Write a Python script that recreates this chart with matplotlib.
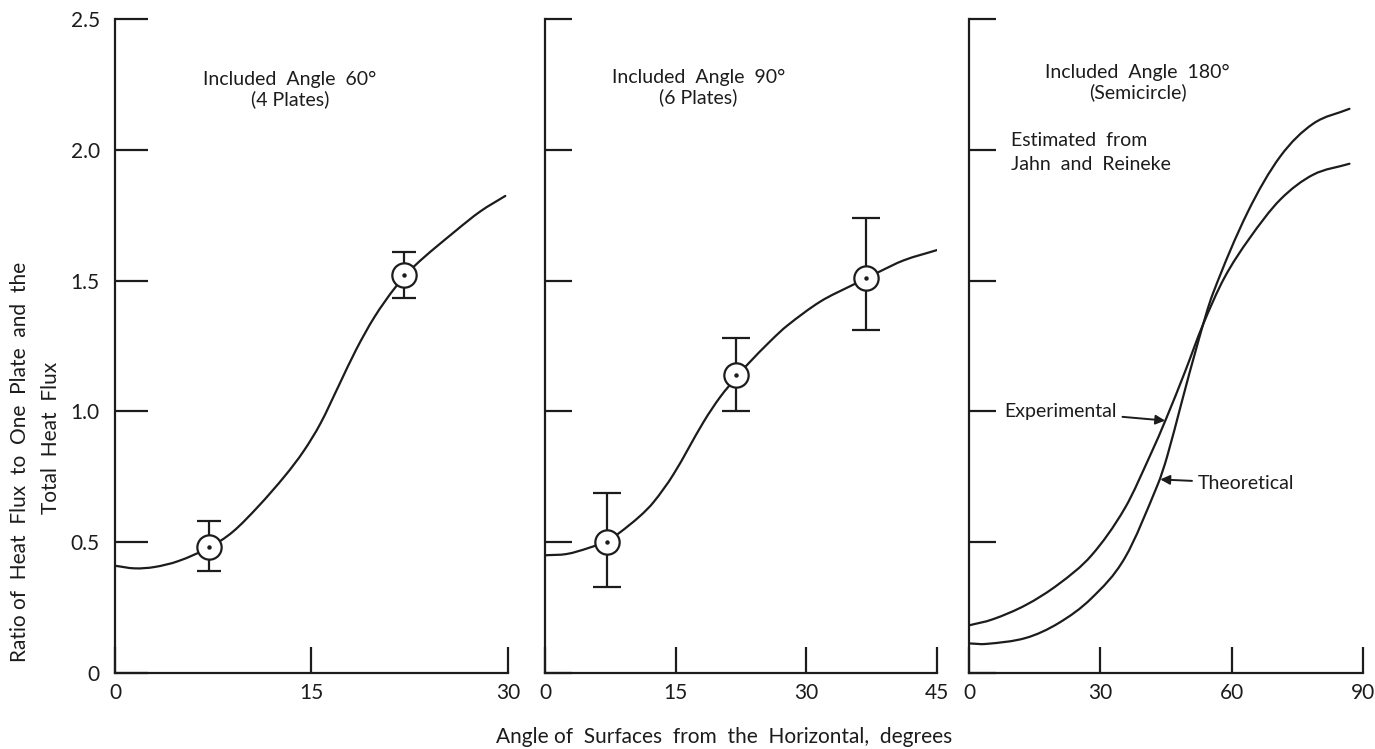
import matplotlib
matplotlib.use("Agg")
import matplotlib.pyplot as plt
from matplotlib.path import Path
from matplotlib.patches import PathPatch

plt.rcParams['font.family'] = ['Lato', 'DejaVu Sans']

INK = '#1c1c1c'

# ---------------- data ----------------
# Panel 1: included angle 60 deg (4 plates)
p1_curve_x = [0, 1.5, 3.0, 4.85, 7.2, 9.0, 11.0, 13.0, 14.4, 15.7, 17.1, 18.4,
              19.8, 21.4, 22.95, 26.0, 27.9, 29.8]
p1_curve_y = [0.41, 0.40, 0.405, 0.428, 0.48, 0.54, 0.64, 0.755, 0.848, 0.955,
              1.10, 1.235, 1.36, 1.474, 1.56, 1.69, 1.765, 1.824]
p1_pts_x = [7.2, 22.05]
p1_pts_y = [0.48, 1.52]
p1_err_lo = [0.39, 1.435]
p1_err_hi = [0.58, 1.61]

# Panel 2: included angle 90 deg (6 plates)
p2_curve_x = [0, 2.5, 5.0, 7.1, 8.5, 10.9, 12.5, 14.75, 18.2, 20.1, 21.95, 23.2,
              25.9, 27.8, 31.6, 35.4, 38.3, 41.2, 45.0]
p2_curve_y = [0.45, 0.455, 0.478, 0.505, 0.535, 0.60, 0.655, 0.76, 0.96, 1.055,
              1.13, 1.178, 1.27, 1.328, 1.42, 1.485, 1.533, 1.578, 1.617]
p2_pts_x = [7.1, 21.95, 36.8]
p2_pts_y = [0.50, 1.14, 1.51]
p2_err_lo = [0.33, 1.00, 1.31]
p2_err_hi = [0.69, 1.28, 1.74]

# Panel 3: included angle 180 deg (semicircle)
exp_x = [0, 5.4, 13, 20.5, 28, 35.6, 41.6, 45.1, 49.3, 53.4, 58.3, 64, 71.1, 78.6, 86.9]
exp_y = [0.182, 0.205, 0.26, 0.34, 0.45, 0.63, 0.84, 0.975, 1.15, 1.33, 1.51,
         1.66, 1.81, 1.905, 1.947]
theo_x = [0, 3.9, 13, 20.5, 28, 35.6, 43.1, 45.3, 48.5, 52.4, 55.7, 63.6, 71.1, 78.6, 86.9]
theo_y = [0.113, 0.111, 0.134, 0.191, 0.286, 0.44, 0.72, 0.83, 1.03, 1.27, 1.45,
          1.76, 1.975, 2.10, 2.157]

y_ticks = [0, 0.5, 1.0, 1.5, 2.0, 2.5]
y_ticklabels = ['0', '0.5', '1.0', '1.5', '2.0', '2.5']
p1_xticks = [0, 15, 30]
p2_xticks = [0, 15, 30, 45]
p3_xticks = [0, 30, 60, 90]

# ---------------- figure ----------------
fig = plt.figure(figsize=(13.75, 7.49), dpi=100)
fig.patch.set_facecolor('white')

bottom = 0.1015
height = 0.873
ax1 = fig.add_axes([0.0836, bottom, 0.2858, height])
ax2 = fig.add_axes([0.3964, bottom, 0.2851, height])
ax3 = fig.add_axes([0.7047, bottom, 0.2866, height])


def style(ax, xticks, ylabels, ylen):
    ax.set_xlim(0, xticks[-1])
    ax.set_ylim(0, 2.5)
    for s in ('top', 'right'):
        ax.spines[s].set_visible(False)
    for s in ('left', 'bottom'):
        ax.spines[s].set_linewidth(1.6)
        ax.spines[s].set_color(INK)
    ax.set_xticks(xticks)
    ax.set_xticklabels([str(t) for t in xticks])
    ax.set_yticks(y_ticks)
    ax.tick_params(axis='x', direction='in', length=19, width=1.6, color=INK,
                   pad=7, labelsize=15, labelcolor=INK)
    ax.tick_params(axis='y', direction='in', length=ylen, width=1.6, color=INK,
                   pad=11, labelsize=15, labelcolor=INK)
    if ylabels:
        ax.set_yticklabels(y_ticklabels)
    else:
        ax.tick_params(axis='y', labelleft=False)
    ax.set_facecolor('none')


style(ax1, p1_xticks, True, 23.5)
style(ax2, p2_xticks, False, 19.5)
style(ax3, p3_xticks, False, 19.5)


def smooth_line(ax, xs, ys):
    """Draw a smooth (cubic Hermite, Bezier-rendered) line through the read points."""
    n = len(xs)
    slopes = []
    for i in range(n):
        if i == 0:
            m = (ys[1] - ys[0]) / (xs[1] - xs[0])
        elif i == n - 1:
            m = (ys[-1] - ys[-2]) / (xs[-1] - xs[-2])
        else:
            m = (ys[i + 1] - ys[i - 1]) / (xs[i + 1] - xs[i - 1])
        slopes.append(m)
    verts = [(xs[0], ys[0])]
    codes = [Path.MOVETO]
    for i in range(n - 1):
        dx = xs[i + 1] - xs[i]
        verts += [(xs[i] + dx / 3, ys[i] + slopes[i] * dx / 3),
                  (xs[i + 1] - dx / 3, ys[i + 1] - slopes[i + 1] * dx / 3),
                  (xs[i + 1], ys[i + 1])]
        codes += [Path.CURVE4] * 3
    ax.add_patch(PathPatch(Path(verts, codes), fill=False, edgecolor=INK,
                           lw=1.6, zorder=2, capstyle='round'))


def points(ax, xs, ys, lo, hi, cap):
    yerr = [[y - l for y, l in zip(ys, lo)], [h - y for y, h in zip(ys, hi)]]
    ax.errorbar(xs, ys, yerr=yerr, fmt='none', ecolor=INK, elinewidth=1.6,
                capsize=cap, capthick=1.6, zorder=3)
    ax.plot(xs, ys, 'o', ms=17.5, mfc='white', mec=INK, mew=1.6, zorder=4,
            clip_on=False)
    ax.plot(xs, ys, 'o', ms=2.2, mfc=INK, mec=INK, zorder=5)


smooth_line(ax1, p1_curve_x, p1_curve_y)
points(ax1, p1_pts_x, p1_pts_y, p1_err_lo, p1_err_hi, 8.5)

smooth_line(ax2, p2_curve_x, p2_curve_y)
points(ax2, p2_pts_x, p2_pts_y, p2_err_lo, p2_err_hi, 10)

smooth_line(ax3, exp_x, exp_y)
smooth_line(ax3, theo_x, theo_y)

# titles
ax1.text(13.35, 2.23, 'Included  Angle  60°\n(4 Plates)', ha='center', va='center',
         fontsize=14, color=INK, linespacing=1.15)
ax2.text(17.6, 2.24, 'Included  Angle  90°\n(6 Plates)', ha='center', va='center',
         fontsize=14, color=INK, linespacing=1.15)
ax3.text(38.5, 2.256, 'Included  Angle  180°\n(Semicircle)', ha='center', va='center',
         fontsize=14, color=INK, linespacing=1.15)
ax3.text(9.7, 1.99, 'Estimated  from\nJahn  and  Reineke', ha='left', va='center',
         fontsize=14, color=INK, linespacing=1.5)

arrow = dict(arrowstyle='-|>', color=INK, lw=1.4, mutation_scale=14,
             shrinkA=2, shrinkB=0)
ax3.annotate('Experimental', xy=(44.8, 0.965), xytext=(8.1, 1.0), ha='left',
             va='center', fontsize=14, color=INK, arrowprops=arrow)
ax3.annotate('Theoretical', xy=(43.7, 0.74), xytext=(52.2, 0.725), ha='left',
             va='center', fontsize=14, color=INK, arrowprops=arrow)

# axis titles
fig.text(0.0145, 1 - 462 / 749, 'Ratio of  Heat  Flux  to  One  Plate  and  the',
         rotation=90, ha='center', va='center', fontsize=15, color=INK)
fig.text(51 / 1375, 1 - 438 / 749, 'Total  Heat  Flux',
         rotation=90, ha='center', va='center', fontsize=15, color=INK)
fig.text(0.527, 0.016, 'Angle of  Surfaces  from  the  Horizontal,  degrees',
         ha='center', va='center', fontsize=15, color=INK)

fig.savefig('out.png', dpi=100, facecolor='white')
